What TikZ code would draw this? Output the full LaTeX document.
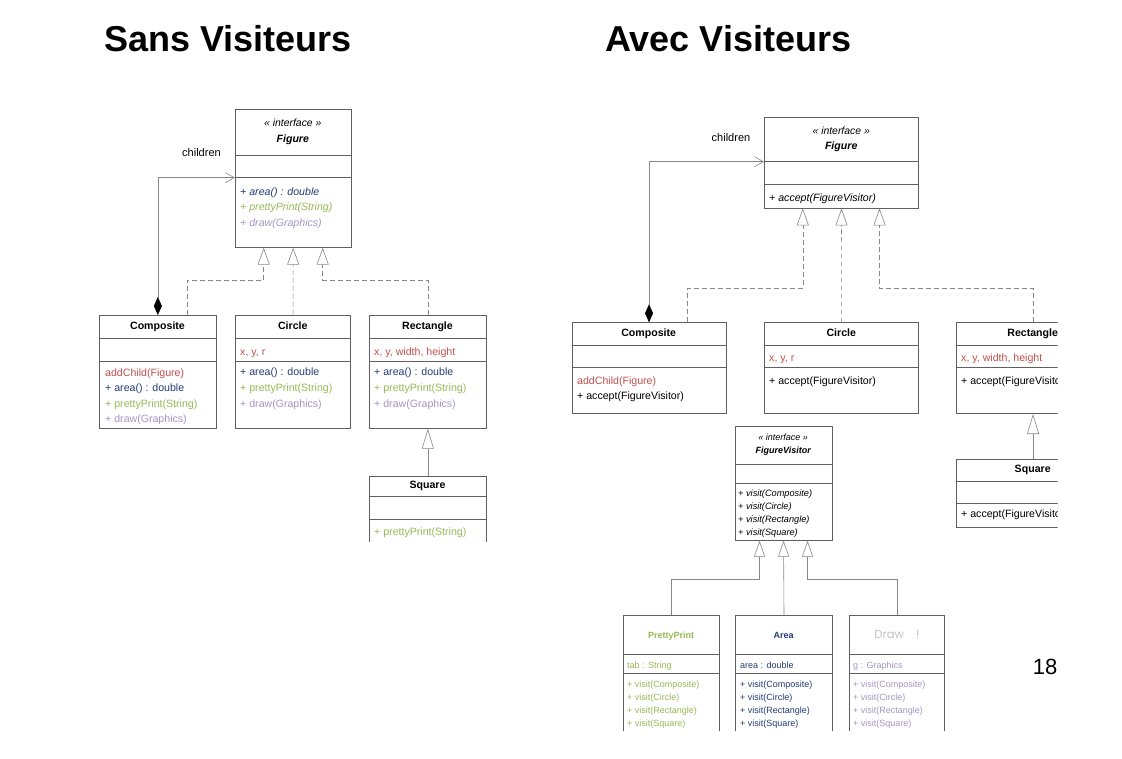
\documentclass[tikz,border=0pt]{standalone}
\usepackage{fontspec}
\setmainfont{Liberation Sans}
\newfontfamily\roundfont{Poppins}
\usetikzlibrary{arrows.meta,calc}
\definecolor{umlred}{RGB}{192,80,77}
\definecolor{umlblue}{RGB}{35,60,115}
\definecolor{umlgreen}{RGB}{150,185,85}
\definecolor{umlpurple}{RGB}{165,150,195}
\definecolor{drawgray}{RGB}{200,192,192}
\definecolor{boxgray}{RGB}{95,95,95}
\definecolor{linkgray}{RGB}{135,135,135}
\newcommand{\csep}[2]{\draw[boxgray,line width=0.7pt] ($(#1.north west)+(0,#2)$) -- ($(#1.north east)+(0,#2)$);}

\begin{document}
\begin{tikzpicture}[x=1pt,y=-1pt,
    cls/.style={draw=boxgray,line width=0.7pt,fill=white,inner sep=0pt,anchor=north west},
    ttl/.style={font=\fontsize{36}{40}\selectfont\bfseries,anchor=base west,inner sep=0pt},
    cname/.style={font=\fontsize{10.6}{12}\selectfont\bfseries,anchor=mid,inner sep=0pt},
    stereo/.style={font=\fontsize{10.4}{12}\selectfont\itshape,anchor=mid,inner sep=0pt},
    mem/.style={font=\fontsize{10.6}{12}\selectfont,anchor=mid west,inner sep=0pt},
    memit/.style={font=\fontsize{10.6}{12}\selectfont\itshape,anchor=mid west,inner sep=0pt},
    tiny/.style={font=\fontsize{9}{10}\selectfont,anchor=mid west,inner sep=0pt},
    link/.style={draw=linkgray,line width=0.6pt},
    real/.style={link,dash pattern=on 5pt off 3pt,-{Triangle[open,length=17pt,width=12pt]}},
    gen/.style={link,-{Triangle[open,length=20pt,width=12pt]}},
    gensm/.style={link,-{Triangle[open,length=16pt,width=11pt]}},
    assoc/.style={link,{Diamond[length=18pt,width=8pt,color=black,fill=black]}-{Straight Barb[length=9pt,width=10pt]}},
  ]
  \useasboundingbox (0,0) rectangle (1122,759);

  % ---------- Sans Visiteurs ----------
  \node[ttl] (ttlL) at (104,51.7) {Sans Visiteurs};

  \node[cls,minimum width=115.7,minimum height=138] (figL) at (235,109) {};
  \csep{figL}{46} \csep{figL}{68.7}
  \node[stereo] (figLs) at (292.8,124) {« interface »};
  \node[cname,font=\fontsize{10.6}{12}\selectfont\bfseries\itshape] (figLn) at (292.8,140) {Figure};
  \node[memit,umlblue] (figLm1) at (240,192.7) {+ area() : double};
  \node[memit,umlgreen] (figLm2) at (240,208) {+ prettyPrint(String)};
  \node[memit,umlpurple] (figLm3) at (240,224) {+ draw(Graphics)};

  \node[cls,minimum width=117,minimum height=113] (compL) at (99,315) {};
  \csep{compL}{23} \csep{compL}{46}
  \node[cname] (compLn) at (157.5,326.7) {Composite};
  \node[mem,umlred] (compLm1) at (105,374) {addChild(Figure)};
  \node[mem,umlblue] (compLm2) at (105,389) {+ area() : double};
  \node[mem,umlgreen] (compLm3) at (105,405) {+ prettyPrint(String)};
  \node[mem,umlpurple] (compLm4) at (105,420) {+ draw(Graphics)};

  \node[cls,minimum width=115,minimum height=113] (circL) at (235.3,315) {};
  \csep{circL}{23} \csep{circL}{46}
  \node[cname] (circLn) at (292.8,326.7) {Circle};
  \node[mem,umlred] (circLa) at (240,353) {x, y, r};
  \node[mem,umlblue] (circLm1) at (240,373) {+ area() : double};
  \node[mem,umlgreen] (circLm2) at (240,389) {+ prettyPrint(String)};
  \node[mem,umlpurple] (circLm3) at (240,405) {+ draw(Graphics)};

  \node[cls,minimum width=117,minimum height=113] (rectL) at (369,315) {};
  \csep{rectL}{23} \csep{rectL}{46}
  \node[cname] (rectLn) at (427.5,326.7) {Rectangle};
  \node[mem,umlred] (rectLa) at (374,353) {x, y, width, height};
  \node[mem,umlblue] (rectLm1) at (374,373) {+ area() : double};
  \node[mem,umlgreen] (rectLm2) at (374,389) {+ prettyPrint(String)};
  \node[mem,umlpurple] (rectLm3) at (374,405) {+ draw(Graphics)};

  \begin{scope}
    \clip (0,0) rectangle (1122,541);
    \node[cls,minimum width=117,minimum height=100] (sqL) at (369,476) {};
    \csep{sqL}{20} \csep{sqL}{43}
    \node[cname] (sqLn) at (427.5,486) {Square};
    \node[mem,umlgreen] (sqLm1) at (374,533) {+ prettyPrint(String)};
  \end{scope}

  \coordinate (barL) at (0,280);
  \coordinate (figLa) at ([xshift=-29.5]figL.south);
  \coordinate (figLc) at ([xshift=29.5]figL.south);
  \coordinate (compLt) at ([xshift=29.2]compL.north);
  \coordinate (figLk) at ($(figL.north west)+(0,68.7)$);
  \draw[assoc] (compL.north) |- (figLk);
  \node[mem,anchor=mid,font=\fontsize{11}{12}\selectfont] (chL) at (201.5,154) {children};
  \draw[real] (compLt) |- (barL -| figLa) -- (figLa);
  \draw[real] (circL.north) -- (figL.south);
  \draw[real] (rectL.north) |- (barL -| figLc) -- (figLc);
  \draw[gen] (sqL.north) -- (rectL.south);

  % ---------- Avec Visiteurs ----------
  \node[ttl] (ttlR) at (605,51.7) {Avec Visiteurs};

  \node[cls,minimum width=154.3,minimum height=91] (figR) at (764,116.7) {};
  \csep{figR}{45} \csep{figR}{67.3}
  \node[stereo] (figRs) at (841.2,131.7) {« interface »};
  \node[cname,font=\fontsize{10.6}{12}\selectfont\bfseries\itshape] (figRn) at (841.2,146.7) {Figure};
  \node[memit] (figRm1) at (769,199.3) {+ accept(FigureVisitor)};

  \node[cls,minimum width=154,minimum height=91] (compR) at (571.7,322.3) {};
  \csep{compR}{22.7} \csep{compR}{45}
  \node[cname] (compRn) at (648.7,334) {Composite};
  \node[mem,umlred] (compRm1) at (577,381.7) {addChild(Figure)};
  \node[mem] (compRm2) at (577,397.3) {+ accept(FigureVisitor)};

  \node[cls,minimum width=154,minimum height=91] (circR) at (764.3,322.3) {};
  \csep{circR}{22.7} \csep{circR}{45}
  \node[cname] (circRn) at (841.3,334) {Circle};
  \node[mem,umlred] (circRa) at (769,359.3) {x, y, r};
  \node[mem] (circRm1) at (769,381.7) {+ accept(FigureVisitor)};

  \begin{scope}
    \clip (0,0) rectangle (1057.5,759);
    \node[cls,minimum width=154,minimum height=91] (rectR) at (955.7,322.3) {};
    \csep{rectR}{22.7} \csep{rectR}{45}
    \node[cname] (rectRn) at (1032.7,334) {Rectangle};
    \node[mem,umlred] (rectRa) at (961,359.3) {x, y, width, height};
    \node[mem] (rectRm1) at (961,381.7) {+ accept(FigureVisitor)};

    \node[cls,minimum width=154,minimum height=67.7] (sqR) at (955.7,459) {};
    \csep{sqR}{22.7} \csep{sqR}{44.3}
    \node[cname] (sqRn) at (1032.7,470) {Square};
    \node[mem] (sqRm1) at (961,515) {+ accept(FigureVisitor)};
  \end{scope}

  \node[cls,minimum width=97,minimum height=114] (fvR) at (734.7,426) {};
  \csep{fvR}{38.3} \csep{fvR}{57.3}
  \node[stereo,font=\fontsize{9}{10}\selectfont\itshape] (fvRs) at (783.2,437.7) {« interface »};
  \node[cname,font=\fontsize{9}{10}\selectfont\bfseries\itshape] (fvRn) at (783.2,451) {FigureVisitor};
  \foreach \v [count=\i] in {Composite,Circle,Rectangle,Square}
    \node[tiny,font=\fontsize{9.2}{10}\selectfont\itshape] (fvRv\i) at (738,{494.3+(\i-1)*13}) {+ visit(\v)};

  \begin{scope}
    \clip (0,0) rectangle (1122,730);
    \node[cls,minimum width=96.6,minimum height=140] (ppR) at (622.7,615.3) {};
    \csep{ppR}{39} \csep{ppR}{58}
    \node[cname,font=\fontsize{9}{10}\selectfont\bfseries,umlgreen] (ppRn) at (671,636) {PrettyPrint};
    \node[tiny,umlgreen] (ppRa) at (627,666) {tab : String};
    \foreach \v [count=\i] in {Composite,Circle,Rectangle,Square}
      \node[tiny,umlgreen] (ppRv\i) at (627,{685+(\i-1)*12.8}) {+ visit(\v)};

    \node[cls,minimum width=96.7,minimum height=140] (areaR) at (735.3,615.3) {};
    \csep{areaR}{39} \csep{areaR}{58}
    \node[cname,font=\fontsize{9}{10}\selectfont\bfseries,umlblue] (areaRn) at (783.7,636) {Area};
    \node[tiny,umlblue] (areaRa) at (740,666) {area : double};
    \foreach \v [count=\i] in {Composite,Circle,Rectangle,Square}
      \node[tiny,umlblue] (areaRv\i) at (740,{685+(\i-1)*12.8}) {+ visit(\v)};

    \node[cls,minimum width=95.6,minimum height=140] (drawR) at (848.7,615.3) {};
    \csep{drawR}{39} \csep{drawR}{58}
    \node[cname,font=\roundfont\fontsize{11.5}{12}\selectfont,drawgray] (drawRn) at (897,636) {Draw\hspace{12pt}!};
    \node[tiny,umlpurple] (drawRa) at (853,666) {g : Graphics};
    \foreach \v [count=\i] in {Composite,Circle,Rectangle,Square}
      \node[tiny,umlpurple] (drawRv\i) at (853,{685+(\i-1)*12.8}) {+ visit(\v)};
  \end{scope}

  \coordinate (barR) at (0,288.3);
  \coordinate (figRa) at ([xshift=-38.7]figR.south);
  \coordinate (figRc) at ([xshift=38]figR.south);
  \coordinate (compRt) at ([xshift=38.6]compR.north);
  \coordinate (figRk) at ($(figR.north west)+(0,45)$);
  \draw[assoc] (compR.north) |- (figRk);
  \node[mem,anchor=mid,font=\fontsize{11}{12}\selectfont] (chR) at (731,139) {children};
  \draw[real] (compRt) |- (barR -| figRa) -- (figRa);
  \draw[real] (circR.north) -- (figR.south);
  \draw[real] (rectR.north) |- (barR -| figRc) -- (figRc);
  \draw[gen] (sqR.north) -- (rectR.south);

  \coordinate (barV) at (0,579.3);
  \coordinate (fvRa) at ([xshift=-24]fvR.south);
  \coordinate (fvRc) at ([xshift=24]fvR.south);
  \draw[gensm] (ppR.north) |- (barV -| fvRa) -- (fvRa);
  \draw[gensm] (areaR.north) -- (fvR.south);
  \draw[gensm] (drawR.north) |- (barV -| fvRc) -- (fvRc);

  \node[font=\fontsize{22}{24}\selectfont,inner sep=0pt] (pgnum) at (1045,667) {18};
\end{tikzpicture}
\end{document}
